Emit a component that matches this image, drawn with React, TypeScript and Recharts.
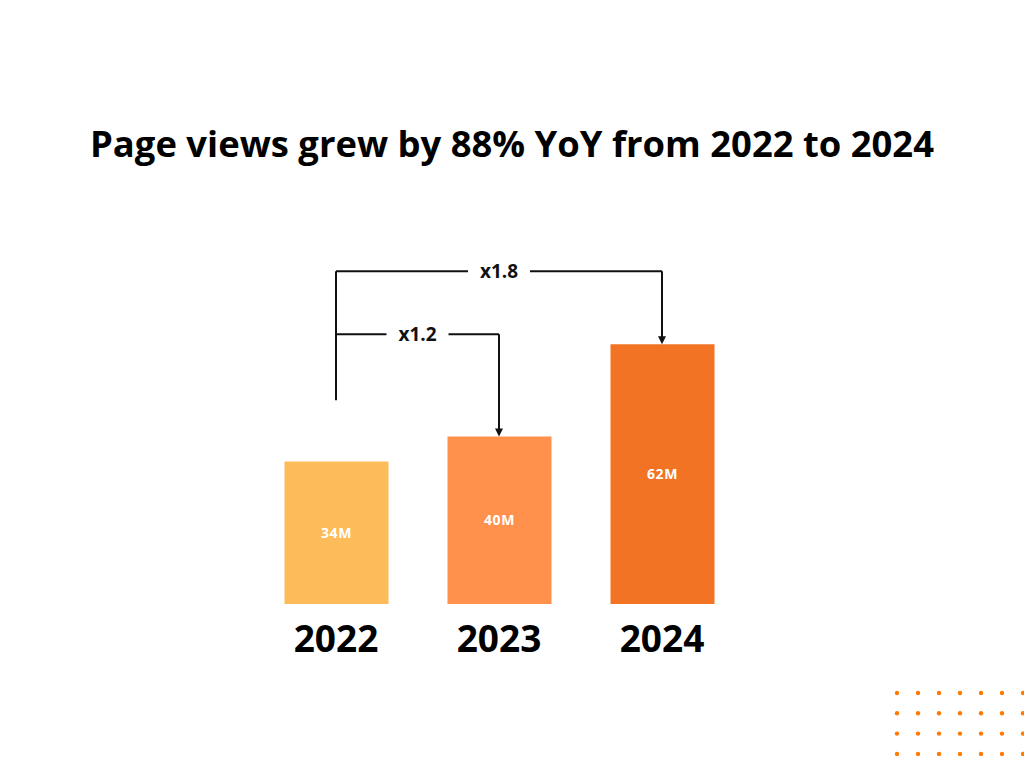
import React from 'react';
import { BarChart, Bar, XAxis, YAxis, Cell, LabelList, ReferenceLine } from 'recharts';

const years = ['2022', '2023', '2024'];
const views = [34, 40, 62];
const barColors = ['#FEBB5A', '#FF914D', '#F37324'];
const growthLabels = ['x1.2', 'x1.8'];

const data = years.map((year, i) => ({ idx: i, year, views: views[i] }));

// bracket heights, in the same units as the bars
const BRACKET_START = 48.6;
const BRACKET_LEVELS = [64.4, 79.4];

const Plain = (p: any) => (
  <line x1={p.x1} y1={p.y1} x2={p.x2} y2={p.y2} stroke="#111" strokeWidth={2} />
);

const Arrow = (p: any) => (
  <g>
    <line x1={p.x1} y1={p.y1} x2={p.x2} y2={p.y2 - 4} stroke="#111" strokeWidth={2} />
    <polygon points={`${p.x2 - 4},${p.y2 - 8} ${p.x2 + 4},${p.y2 - 8} ${p.x2},${p.y2}`} fill="#111" />
  </g>
);

const withText = (text: string) => (p: any) => {
  const mx = (p.x1 + p.x2) / 2;
  return (
    <g>
      <line x1={p.x1} y1={p.y1} x2={p.x2} y2={p.y2} stroke="#111" strokeWidth={2} />
      <rect x={mx - 31} y={p.y1 - 12} width={62} height={24} fill="#fff" />
      <text x={mx} y={p.y1 + 7} textAnchor="middle" fontSize={19} fontWeight={700} fill="#111"
        fontFamily="'Open Sans', sans-serif">
        {text}
      </text>
    </g>
  );
};

const YearTick = (p: any) => (
  <text x={p.x} y={p.y + 48} textAnchor="middle" fontSize={37} fontWeight={700} fill="#000"
    fontFamily="'Open Sans', sans-serif">
    {years[p.payload.value]}
  </text>
);

const Dots = () => {
  const dots = [];
  for (let r = 0; r < 4; r++) {
    for (let c = 0; c < 7; c++) {
      dots.push(<circle key={`${r}-${c}`} cx={897 + c * 21} cy={693 + r * 20.3} r={2.2} fill="#FF7A00" />);
    }
  }
  return (
    <svg width={1024} height={768} style={{ position: 'absolute', left: 0, top: 0, pointerEvents: 'none' }}>
      {dots}
    </svg>
  );
};

export default function App() {
  return (
    <div style={{ position: 'absolute', left: 0, top: 0, width: 1024, height: 768, background: '#fff', overflow: 'hidden' }}>
      <div style={{
        position: 'absolute', top: 118, left: 0, width: 1024, textAlign: 'center',
        fontFamily: "'Open Sans', sans-serif", fontWeight: 700, fontSize: 36.4, lineHeight: '50px', color: '#000',
      }}>
        Page views grew by 88% YoY from 2022 to 2024
      </div>
      <BarChart width={1024} height={768} data={data} margin={{ top: 185, right: 199, left: 173, bottom: 0 }}>
        <XAxis type="number" dataKey="idx" domain={[-1, 3]} ticks={[0, 1, 2]} height={164}
          axisLine={false} tickLine={false} tickSize={0} tickMargin={0} tick={<YearTick />} />
        <YAxis hide domain={[0, 100]} />
        <Bar dataKey="views" barSize={104} isAnimationActive={false}>
          {data.map((d, i) => <Cell key={d.year} fill={barColors[i]} />)}
          <LabelList dataKey="views" position="center" formatter={(v: any) => `${v}M`}
            fill="#fff" fontSize={14} fontWeight={700} letterSpacing={0.6} fontFamily="'Open Sans', sans-serif" />
        </Bar>
        {/* x1.2 : 2022 -> 2023 */}
        <ReferenceLine segment={[{ x: 0, y: BRACKET_START }, { x: 0, y: BRACKET_LEVELS[1] }]} shape={Plain} />
        <ReferenceLine segment={[{ x: 0, y: BRACKET_LEVELS[0] }, { x: 1, y: BRACKET_LEVELS[0] }]} shape={withText(growthLabels[0])} />
        <ReferenceLine segment={[{ x: 1, y: BRACKET_LEVELS[0] }, { x: 1, y: views[1] }]} shape={Arrow} />
        {/* x1.8 : 2022 -> 2024 */}
        <ReferenceLine segment={[{ x: 0, y: BRACKET_LEVELS[1] }, { x: 2, y: BRACKET_LEVELS[1] }]} shape={withText(growthLabels[1])} />
        <ReferenceLine segment={[{ x: 2, y: BRACKET_LEVELS[1] }, { x: 2, y: views[2] }]} shape={Arrow} />
      </BarChart>
      <Dots />
    </div>
  );
}
